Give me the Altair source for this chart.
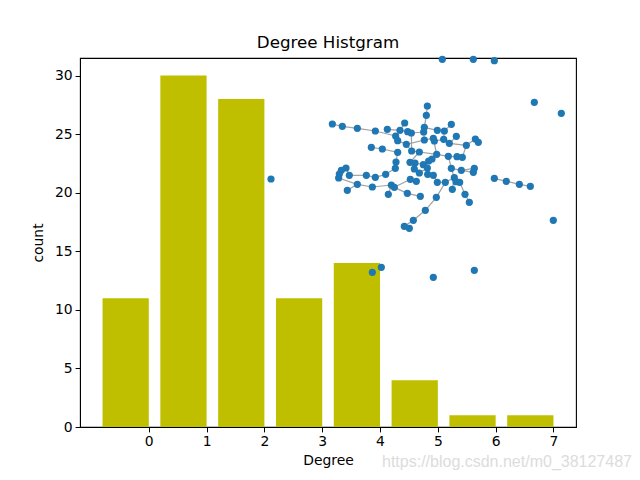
import altair as alt
import pandas as pd

# ---- histogram data ----
degree = [0, 1, 2, 3, 4, 5, 6, 7]
count = [11, 30, 28, 11, 14, 4, 1, 1]
bar_width = 0.8

# ---- network layout (spring-layout units, y pointing down) ----
pos_x = [67, 97, 142, 196, 232, 284, 270, 293, 304, 343,
         341, 352, 349, 382, 403, 424, 439, 257, 263, 343,
         370, 373, 401, 418, 289, 469, 496, 505, 184, 217,
         263, 305, 328, 380, 366, 415, 441, 457, 258, 300,
         315, 340, 356, 256, 313, 328, 352, 353, 370, 424,
         454, 493, 490, 108, 94, 88, 86, 118, 169, 196,
         227, 142, 187, 112, 244, 253, 235, 301, 319, 292,
         331, 382, 406, 433, 438, 449, 427, 465, 478, 379,
         346, 310, 283, 298, 553, 589, 628, 661,
         397, 490, 553, 673, 754, 730, 187, 214, 370, 493, -117]
pos_y = [222, 229, 235, 243, 238, 219, 241, 245, 249, 232,
         246, 168, 196, 241, 243, 223, 259, 258, 272, 270,
         265, 273, 268, 280, 283, 286, 267, 277, 292, 297,
         307, 303, 306, 313, 327, 319, 320, 322, 336, 337,
         339, 344, 333, 355, 357, 369, 354, 373, 376, 355,
         361, 355, 367, 354, 361, 372, 384, 376, 376, 382,
         373, 403, 411, 421, 405, 412, 433, 388, 394, 430,
         439, 397, 397, 383, 395, 397, 418, 433, 457, 442,
         481, 511, 529, 535, 385, 394, 403, 409,
         28, 28, 32, 157, 190, 511, 667, 652, 682, 661, 387]

edges = [(1, 2), (2, 3), (3, 4), (4, 18), (5, 7), (6, 7), (7, 8), (8, 9), (9, 11), (10, 11),
         (10, 13), (12, 13), (10, 14), (14, 15), (15, 16), (15, 23), (11, 20), (20, 21), (21, 22),
         (22, 23), (23, 24), (24, 17), (24, 26), (26, 27), (27, 28), (26, 38), (18, 19), (19, 25),
         (25, 20), (25, 32), (29, 30), (30, 31), (31, 39), (32, 33), (33, 34), (34, 35), (34, 36),
         (36, 37), (37, 38), (35, 43), (42, 43), (41, 42), (40, 41), (40, 45), (45, 46), (42, 47),
         (47, 48), (48, 49), (39, 44), (44, 61), (50, 51), (51, 52), (51, 53), (36, 50), (54, 55),
         (55, 56), (56, 57), (54, 58), (58, 59), (59, 60), (60, 61), (57, 62), (62, 63), (63, 65),
         (65, 66), (65, 67), (62, 64), (66, 68), (66, 70), (68, 69), (70, 71), (72, 73), (73, 74),
         (74, 75), (75, 76), (74, 77), (76, 78), (78, 79), (73, 80), (80, 81), (81, 82), (82, 83),
         (83, 84), (72, 49), (74, 50), (85, 86), (86, 87), (87, 88), (33, 40), (46, 47), (21, 34),
         (9, 32)]

watermark = "https://blog.csdn.net/m0_38127487"

FONT = "DejaVu Sans"

hist_df = pd.DataFrame({"degree": degree, "count": count})
nodes_df = pd.DataFrame({"x": pos_x, "y": pos_y})
edges_df = pd.DataFrame({
    "x": [pos_x[a - 1] for a, b in edges],
    "y": [pos_y[a - 1] for a, b in edges],
    "x2": [pos_x[b - 1] for a, b in edges],
    "y2": [pos_y[b - 1] for a, b in edges],
})

bars = alt.Chart(hist_df).transform_calculate(
    x0=f"datum.degree - {bar_width}"
).mark_bar(color="#bfbf00").encode(
    x=alt.X("x0:Q", title="Degree",
            scale=alt.Scale(domain=[-1.19, 7.39], nice=False, zero=False, padding=0),
            axis=alt.Axis(values=degree, format="d")),
    x2="degree:Q",
    y=alt.Y("count:Q", title="count",
            scale=alt.Scale(domain=[0, 31.5], nice=False, padding=0),
            axis=alt.Axis(values=[0, 5, 10, 15, 20, 25, 30], titlePadding=9)),
    y2=alt.datum(0),
)

net_x = alt.Scale(domain=[0, 810], range=[230, 500], nice=False, zero=False)
net_y = alt.Scale(domain=[0, 720], range=[-8, 232], nice=False, zero=False)

edge_layer = alt.Chart(edges_df).mark_rule(color="#a0a0a0", strokeWidth=1.2).encode(
    x=alt.X("x:Q", scale=net_x, axis=None),
    y=alt.Y("y:Q", scale=net_y, axis=None),
    x2="x2:Q",
    y2="y2:Q",
)

node_layer = alt.Chart(nodes_df).mark_circle(color="#1f77b4", opacity=1, size=52).encode(
    x=alt.X("x:Q", scale=net_x, axis=None),
    y=alt.Y("y:Q", scale=net_y, axis=None),
)

net = alt.layer(edge_layer, node_layer)

wm = alt.Chart(pd.DataFrame({"t": [watermark]})).mark_text(
    align="left", baseline="middle", font="Liberation Sans", fontSize=16, color="#dcdcdc"
).encode(text="t:N", x=alt.value(302), y=alt.value(404))

chart = alt.layer(bars, net, wm).resolve_scale(x="independent", y="independent").properties(
    width=496, height=369,
    title=alt.TitleParams("Degree Histgram", font=FONT, fontSize=16.7, fontWeight="normal",
                          color="black", offset=4),
    autosize=alt.AutoSizeParams(type="none"),
    padding={"left": 72, "top": 50, "right": 56, "bottom": 45},
).configure_view(stroke="black", strokeWidth=1.1).configure_axis(
    labelFont=FONT, titleFont=FONT, labelFontSize=13.9, titleFontSize=13.9,
    labelColor="black", titleColor="black", titleFontWeight="normal",
    domainColor="black", tickColor="black", tickSize=4.9, labelPadding=3,
    grid=False, titlePadding=5,
)

chart.save("out.html", embed_options={"renderer": "svg", "actions": False})
